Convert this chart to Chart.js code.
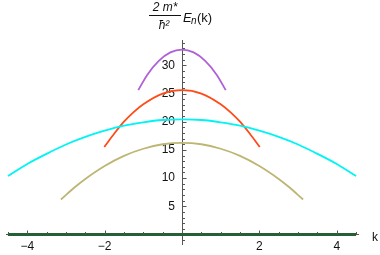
<!DOCTYPE html>
<html>
<head>
<meta charset="utf-8">
<script src="https://cdn.jsdelivr.net/npm/chart.js@4.4.1/dist/chart.umd.min.js"></script>
<style>
  html, body { margin: 0; padding: 0; background: #fff; }
  canvas { display: block; }
</style>
</head>
<body>
<canvas id="chart" width="380" height="255"></canvas>
<script>
// band values
const kPurple = [-1.13, -0.9, -0.6, -0.3, 0, 0.3, 0.6, 0.9, 1.13];
const ePurple = [25.6, 28.3, 30.8, 32.3, 32.8, 32.3, 30.8, 28.3, 25.6];

const kRed = [-2.01, -1.75, -1.5, -1.25, -1, -0.5, 0, 0.5, 1, 1.25, 1.5, 1.75, 2.01];
const eRed = [15.5, 17.9, 20.0, 21.7, 23.1, 25.0, 25.6, 25.0, 23.1, 21.7, 20.0, 17.9, 15.5];

const kCyan = [-4.5, -4, -3.5, -3, -2.5, -2, -1.5, -1, -0.5, 0, 0.5, 1, 1.5, 2, 2.5, 3, 3.5, 4, 4.5];
const eCyan = [10.35, 12.5, 14.3, 15.95, 17.3, 18.4, 19.3, 19.9, 20.3, 20.4, 20.3, 19.9, 19.3, 18.4, 17.3, 15.95, 14.3, 12.5, 10.35];

const kOlive = [-3.13, -2.75, -2.5, -2, -1.5, -1, -0.5, 0, 0.5, 1, 1.5, 2, 2.5, 2.75, 3.13];
const eOlive = [6.2, 8.5, 9.85, 12.15, 13.95, 15.2, 16.0, 16.25, 16.0, 15.2, 13.95, 12.15, 9.85, 8.5, 6.2];

const kGreen = [-4.5, 4.5];
const eGreen = [0, 0];

const xTicks = [-4, -2, 2, 4];
const yTicks = [5, 10, 15, 20, 25, 30];

const FONT = "'Liberation Sans', Arial, sans-serif";
const Y_MIN = -1.7, Y_MAX = 34.5;

function pts(ks, es) {
  return ks.map((k, i) => ({ x: k, y: es[i] }));
}

function band(ks, es, color, width) {
  return {
    data: pts(ks, es),
    borderColor: color,
    borderWidth: width,
    showLine: true,
    pointRadius: 0,
    tension: 0.4,
    cubicInterpolationMode: "monotone",
    fill: false
  };
}

// title, axis name and tick marks
const decor = {
  id: "decor",
  afterDraw(chart) {
    const { ctx } = chart;
    const x = chart.scales.x;
    const y = chart.scales.y;
    const x0 = Math.round(x.getPixelForValue(0)) + 0.5;
    const y0 = Math.round(y.getPixelForValue(0)) + 0.5;

    ctx.save();
    ctx.strokeStyle = "#555";
    ctx.lineWidth = 1;
    ctx.beginPath();
    for (let i = -9; i <= 9; i++) {
      if (i === 0) continue;
      const px = Math.round(x.getPixelForValue(i / 2)) + 0.5;
      const len = i % 4 === 0 ? 4 : 2.5;
      ctx.moveTo(px, y0);
      ctx.lineTo(px, y0 - len);
    }
    for (let v = -1; v <= 34; v++) {
      if (v === 0) continue;
      const py = Math.round(y.getPixelForValue(v)) + 0.5;
      const len = v % 5 === 0 ? 4 : 2.5;
      ctx.moveTo(x0, py);
      ctx.lineTo(x0 + len, py);
    }
    ctx.stroke();

    ctx.fillStyle = "#111";
    ctx.textBaseline = "alphabetic";
    ctx.textAlign = "left";
    ctx.font = "12px " + FONT;
    ctx.fillText("k", 372, 241);

    // fraction 2 m* / ħ²
    ctx.textAlign = "center";
    ctx.font = "italic 12px " + FONT;
    ctx.fillText("2 m*", 165, 11);
    ctx.fillText("ħ²", 164, 29);
    ctx.beginPath();
    ctx.moveTo(149, 15.5);
    ctx.lineTo(181, 15.5);
    ctx.strokeStyle = "#111";
    ctx.stroke();

    ctx.textAlign = "left";
    ctx.font = "italic 13px " + FONT;
    ctx.fillText("E", 183, 22);
    ctx.font = "italic 10px " + FONT;
    ctx.fillText("n", 191, 24);
    ctx.font = "13px " + FONT;
    ctx.fillText("(k)", 197, 22);
    ctx.restore();
  }
};

new Chart(document.getElementById("chart"), {
  type: "scatter",
  data: {
    datasets: [
      band(kOlive, eOlive, "#bdb673", 1.8),
      band(kCyan, eCyan, "#00f4f4", 1.8),
      band(kRed, eRed, "#ff4b17", 1.8),
      band(kPurple, ePurple, "#b061d8", 1.8),
      band(kGreen, eGreen, "#245f36", 3)
    ]
  },
  options: {
    responsive: false,
    animation: false,
    devicePixelRatio: 1,
    layout: { padding: { left: 6, right: 22, top: 40, bottom: 11 } },
    plugins: {
      legend: { display: false },
      tooltip: { enabled: false },
      title: { display: false }
    },
    scales: {
      x: {
        type: "linear",
        position: { y: 0 },
        min: -4.55,
        max: 4.55,
        afterFit: s => { s.height = 0; },
        afterBuildTicks: s => { s.ticks = xTicks.map(v => ({ value: v })); },
        grid: { display: false, drawTicks: false },
        border: { display: true, color: "#555", width: 1 },
        ticks: {
          padding: 5,
          maxRotation: 0,
          autoSkip: false,
          color: "#111",
          font: { family: FONT, size: 12 },
          callback: v => String(v).replace("-", "\u2212")
        }
      },
      y: {
        type: "linear",
        position: { x: 0 },
        min: Y_MIN,
        max: Y_MAX,
        afterFit: s => { s.width = 0; },
        grid: { display: false, drawTicks: false },
        border: { display: true, color: "#555", width: 1 },
        ticks: { display: false }
      },
      // labels for the vertical axis, set a few pixels left of it
      yLabels: {
        type: "linear",
        position: { x: -0.18 },
        min: Y_MIN,
        max: Y_MAX,
        afterFit: s => { s.width = 0; },
        afterBuildTicks: s => { s.ticks = yTicks.map(v => ({ value: v })); },
        grid: { display: false, drawTicks: false },
        border: { display: false },
        ticks: {
          autoSkip: false,
          color: "#111",
          font: { family: FONT, size: 12 }
        }
      }
    }
  },
  plugins: [decor]
});
</script>
</body>
</html>
